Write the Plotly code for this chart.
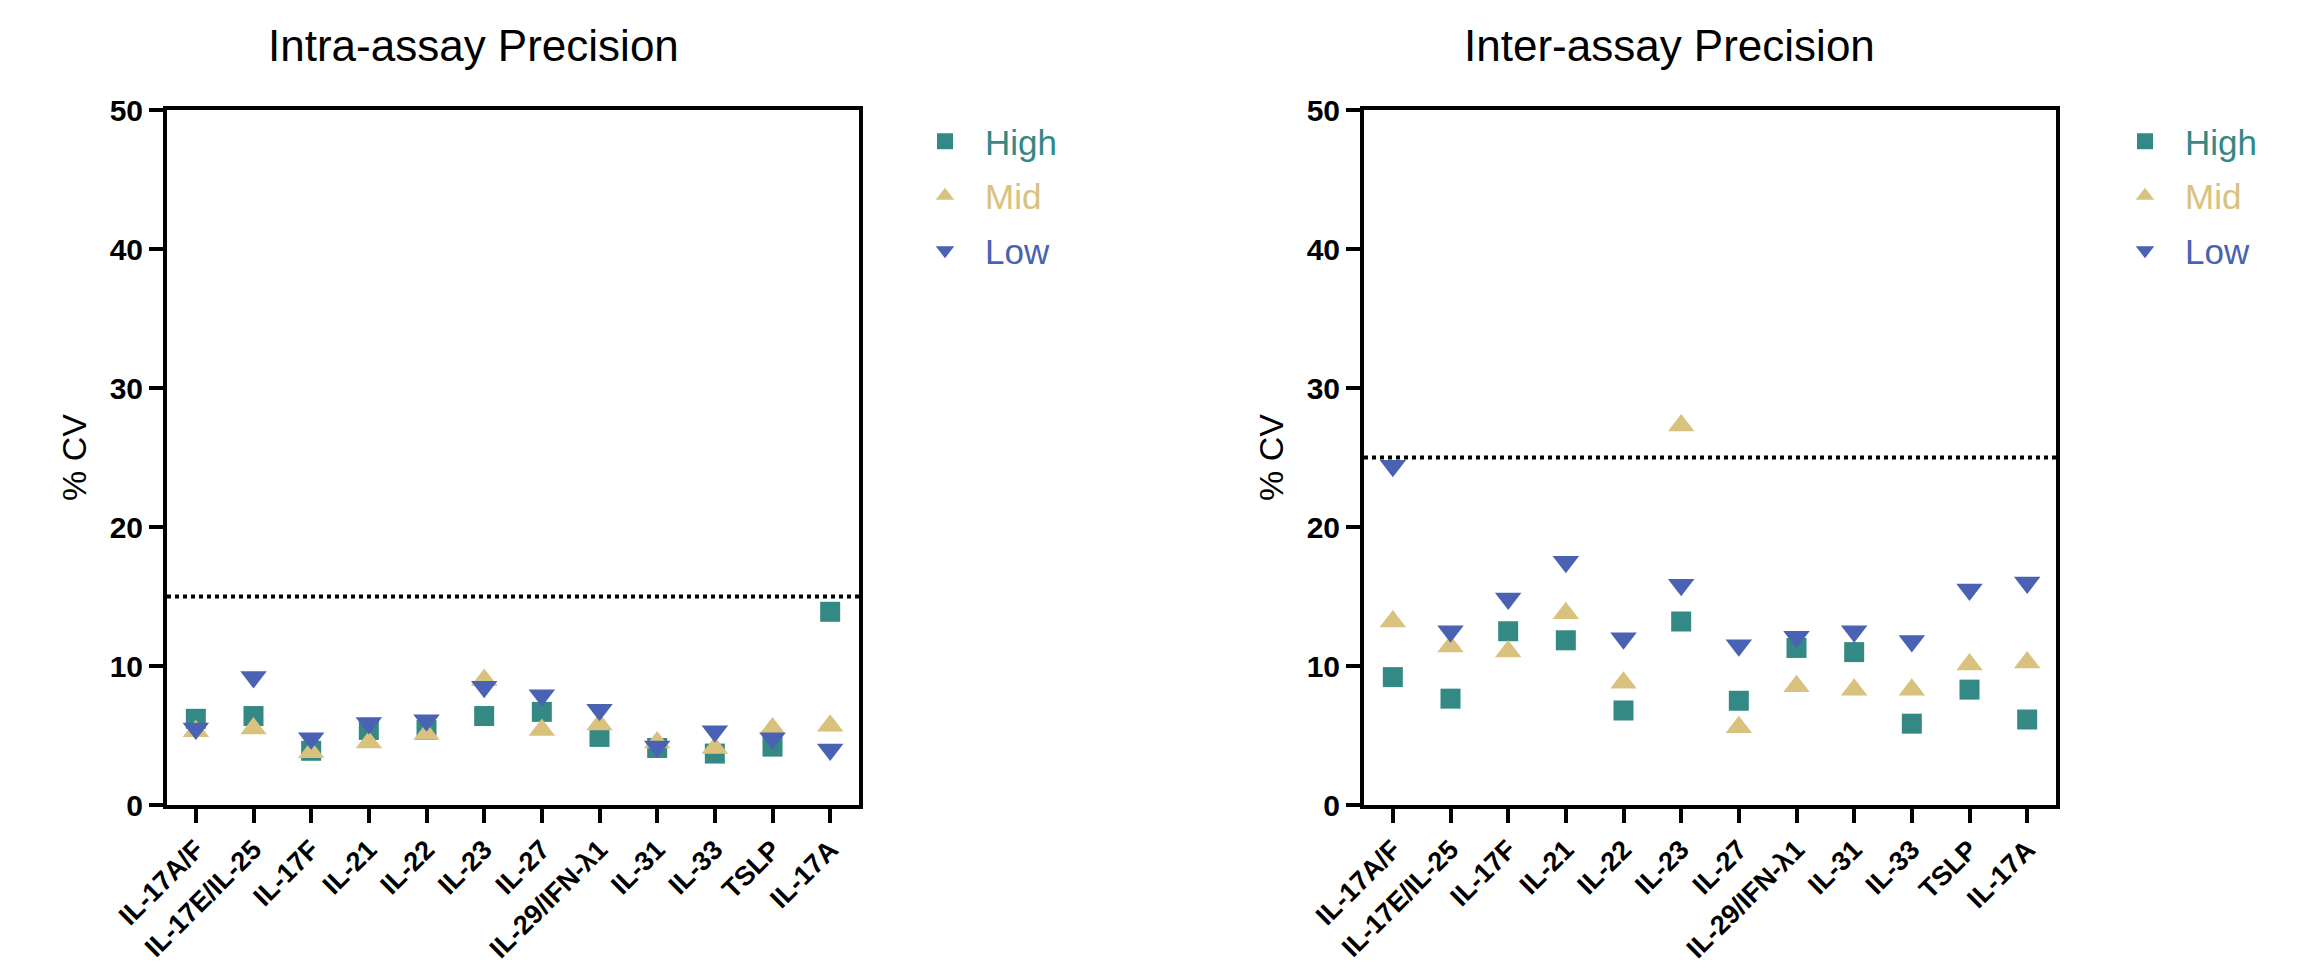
import plotly.graph_objects as go

categories = ["IL-17A/F", "IL-17E/IL-25", "IL-17F", "IL-21", "IL-22", "IL-23",
              "IL-27", "IL-29/IFN-λ1", "IL-31", "IL-33", "TSLP", "IL-17A"]

intra_high = [6.2, 6.4, 3.9, 5.4, 5.4, 6.4, 6.7, 4.9, 4.1, 3.7, 4.2, 13.9]
intra_mid = [5.3, 5.5, 3.8, 4.5, 5.1, 9.0, 5.4, 5.8, 4.5, 4.1, 5.5, 5.7]
intra_low = [5.5, 9.2, 4.8, 5.9, 6.1, 8.5, 7.9, 6.85, 4.2, 5.3, 4.8, 4.0]

inter_high = [9.2, 7.65, 12.5, 11.85, 6.8, 13.2, 7.5, 11.3, 11.0, 5.85, 8.3, 6.15]
inter_mid = [13.2, 11.4, 11.05, 13.8, 8.8, 27.3, 5.6, 8.55, 8.3, 8.3, 10.1, 10.25]
inter_low = [24.4, 12.5, 14.85, 17.5, 12.0, 15.85, 11.5, 12.1, 12.5, 11.8, 15.5, 16.0]

intra_limit = 15
inter_limit = 25
titles = ["Intra-assay Precision", "Inter-assay Precision"]
y_ticks = [0, 10, 20, 30, 40, 50]

C_HIGH = "#348985"
C_MID = "#d8c27e"
C_LOW = "#4a62b3"

W, H = 2303, 975
FONT = "Liberation Sans, Arial, sans-serif"

fig = go.Figure()

series = [("High", "square", 20, C_HIGH), ("Mid", "triangle-up", 23, C_MID), ("Low", "triangle-down", 23, C_LOW)]
panels = [
    ("x", "y", "legend", [intra_high, intra_mid, intra_low]),
    ("x2", "y2", "legend2", [inter_high, inter_mid, inter_low]),
]
for xa, ya, lg, vals in panels:
    for (name, sym, size, col), v in zip(series, vals):
        fig.add_trace(go.Scatter(
            x=categories, y=v, mode="markers", xaxis=xa, yaxis=ya,
            name=f"<span style='color:{col}'>{name}</span>",
            legend=lg, legendgroup=lg + name,
            marker=dict(symbol=sym, size=size, color=col, line=dict(width=0)),
        ))

def px_x(p):
    return p / W

def px_y(p):
    return 1 - p / H

ydom = [px_y(805), px_y(110)]
xdoms = [[px_x(167), px_x(859)], [px_x(1364), px_x(2056)]]

axis_common = dict(
    showline=True, linewidth=4, linecolor="black", mirror=True,
    ticks="outside", ticklen=14, tickwidth=4, tickcolor="black",
    showgrid=False, zeroline=False,
)

for i, (xd, lim) in enumerate(zip(xdoms, [intra_limit, inter_limit])):
    sfx = "" if i == 0 else str(i + 1)
    fig.layout["xaxis" + sfx] = dict(
        axis_common, domain=xd, anchor="y" + sfx, range=[-0.5, 11.5],
        type="category", tickangle=-45, automargin=False,
        categoryorder="array", categoryarray=categories,
        tickfont=dict(family=FONT, size=27, color="black", weight="bold"),
    )
    fig.layout["yaxis" + sfx] = dict(
        axis_common, domain=ydom, anchor="x" + sfx, range=[0, 50],
        tickvals=y_ticks, automargin=False,
        tickfont=dict(family=FONT, size=30, color="black", weight="bold"),
        title=dict(text="% CV", font=dict(family=FONT, size=34, color="black"), standoff=14),
    )
    fig.add_shape(type="line", xref="x" + sfx + " domain", yref="y" + sfx,
                  x0=0, x1=1, y0=lim, y1=lim,
                  line=dict(color="black", width=4, dash="dot"))

title_x = [473, 1669]
for t, tx in zip(titles, title_x):
    fig.add_annotation(text=t, x=px_x(tx), y=px_y(45), xref="paper", yref="paper",
                       xanchor="center", yanchor="middle", showarrow=False,
                       font=dict(family=FONT, size=44, color="black"))

legend_common = dict(
    bgcolor="rgba(0,0,0,0)", font=dict(family=FONT, size=35),
    tracegroupgap=6, itemsizing="trace", xanchor="left", yanchor="top",
    itemwidth=70,
)
fig.update_layout(
    legend=dict(legend_common, x=px_x(905), y=px_y(112)),
    legend2=dict(legend_common, x=px_x(2105), y=px_y(112)),
    width=W, height=H,
    margin=dict(l=0, r=0, t=0, b=0),
    paper_bgcolor="white", plot_bgcolor="white",
    showlegend=True,
)

fig.write_html("out.html", config={"displayModeBar": False},
               post_script="document.body.style.margin='0';")
